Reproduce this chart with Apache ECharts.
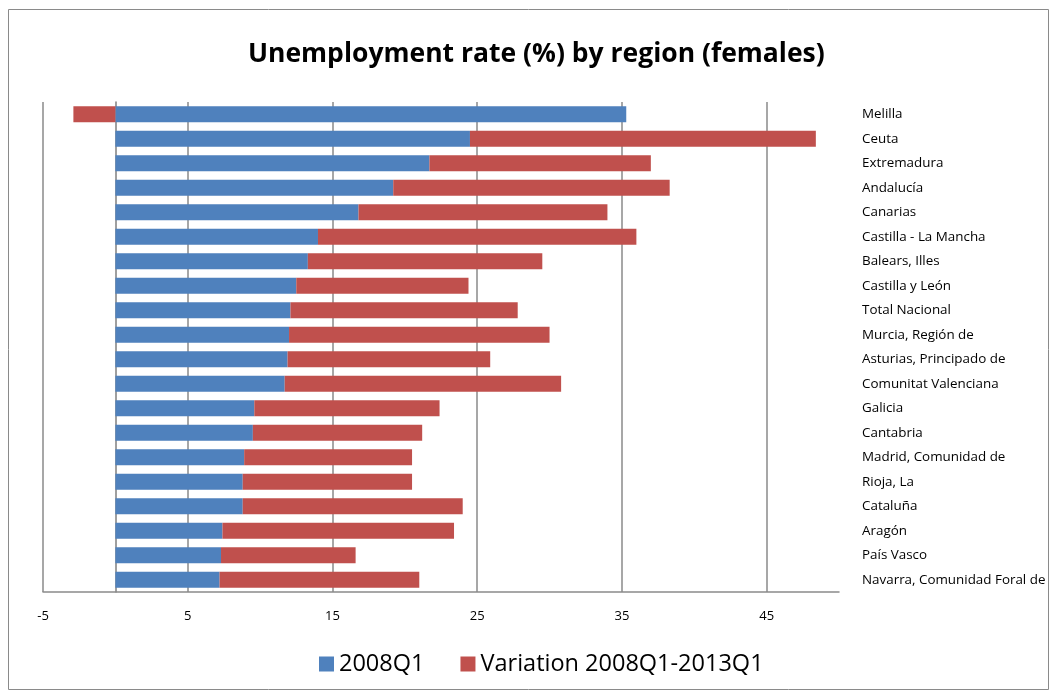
<!DOCTYPE html>
<html>
<head>
<meta charset="utf-8">
<script src="https://cdn.jsdelivr.net/npm/echarts@6/dist/echarts.min.js"></script>
<style>
html,body{margin:0;padding:0;background:#fff;}
#chart{width:1057px;height:697px;}
</style>
</head>
<body>
<div id="chart"></div>
<script>
const categories = ["Melilla","Ceuta","Extremadura","Andalucía","Canarias","Castilla - La Mancha","Balears, Illes","Castilla y León","Total Nacional","Murcia, Región de","Asturias, Principado de","Comunitat Valenciana","Galicia","Cantabria","Madrid, Comunidad de","Rioja, La","Cataluña","Aragón","País Vasco","Navarra, Comunidad Foral de"];
const q2008 = [35.3,24.5,21.7,19.2,16.8,14.0,13.3,12.5,12.1,12.0,11.9,11.7,9.6,9.5,8.9,8.8,8.8,7.4,7.3,7.2];
const variation = [-2.9,23.9,15.3,19.1,17.2,22.0,16.2,11.9,15.7,18.0,14.0,19.1,12.8,11.7,11.6,11.7,15.2,16.0,9.3,13.8];
const seriesNames = ["2008Q1","Variation 2008Q1-2013Q1"];
const titleText = "Unemployment rate (%) by region (females)";

const font = "'Open Sans', sans-serif";
const chart = echarts.init(document.getElementById('chart'));
chart.setOption({
  animation: false,
  backgroundColor: '#fff',
  color: ['#4F81BD','#C0504D'],
  title: {
    text: titleText,
    left: 248,
    top: 41,
    padding: 0,
    textStyle: {fontFamily: font, fontSize: 26.5, fontWeight: 'bold', color: '#000'}
  },
  legend: {
    data: seriesNames,
    left: 319,
    top: 652,
    padding: 0,
    itemWidth: 15,
    itemHeight: 15,
    itemGap: 36,
    icon: 'rect',
    textStyle: {fontFamily: font, fontSize: 23.5, color: '#000'}
  },
  graphic: [{
    type: 'rect',
    shape: {x: 8.5, y: 9.5, width: 1040, height: 680},
    style: {fill: 'none', stroke: '#8a8a8a', lineWidth: 1},
    silent: true
  }],
  grid: {left: 43, right: 218, top: 102, height: 490, containLabel: false},
  xAxis: {
    type: 'value',
    min: -5, max: 50, interval: 10,
    axisLine: {show: true, lineStyle: {color: '#8a8a8a', width: 1.5}},
    axisTick: {show: false},
    splitLine: {show: true, showMaxLine: false, lineStyle: {color: '#8a8a8a', width: 1.5}},
    axisLabel: {showMaxLabel: false, color: '#000', fontFamily: font, fontSize: 13, margin: 18}
  },
  yAxis: [{
    type: 'category',
    data: categories,
    inverse: true,
    position: 'left',
    axisLine: {show: true, onZero: true, lineStyle: {color: '#7f7f7f', width: 1.5}},
    axisTick: {show: false},
    axisLabel: {show: false},
    splitLine: {show: false}
  },{
    type: 'category',
    data: categories,
    inverse: true,
    position: 'right',
    axisLine: {show: false},
    axisTick: {show: false},
    axisLabel: {show: true, color: '#000', fontFamily: font, fontSize: 13.4, margin: 23},
    splitLine: {show: false}
  }],
  series: [{
    name: seriesNames[0],
    type: 'bar',
    stack: 'total',
    yAxisIndex: 0,
    barWidth: '65%',
    data: q2008
  },{
    name: seriesNames[1],
    type: 'bar',
    stack: 'total',
    yAxisIndex: 0,
    barWidth: '65%',
    data: variation
  }]
});
</script>
</body>
</html>
